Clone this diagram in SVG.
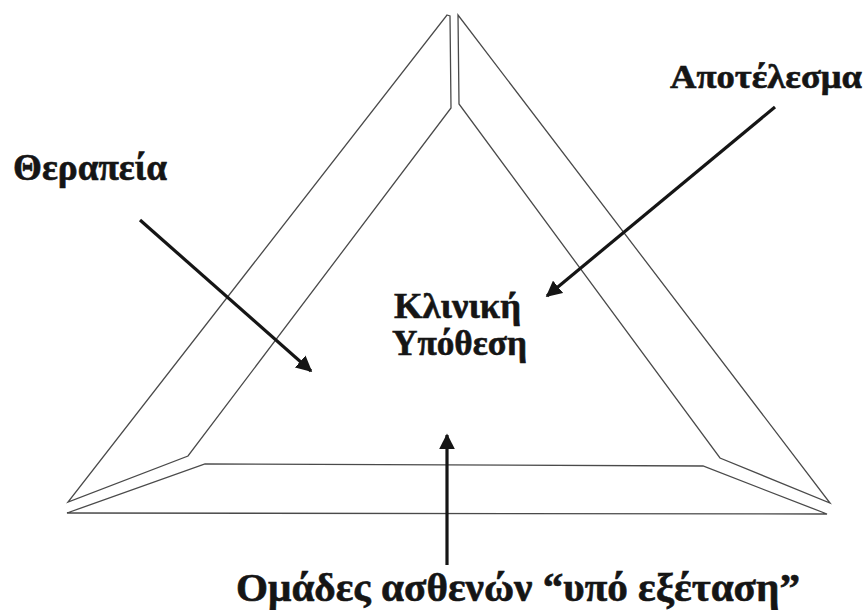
<svg xmlns="http://www.w3.org/2000/svg" width="866" height="610" viewBox="0 0 866 610">
<style>
.frame{fill:none;stroke:#4a4a4a;stroke-width:1.3;stroke-linejoin:miter}
.lbl{font-family:"Liberation Serif","Times New Roman",serif;font-weight:bold;fill:#151515;stroke:#151515;stroke-width:0.6}
.arr{stroke:#151515;stroke-width:3.2;fill:none}
</style>
<defs>
<marker id="ah" viewBox="0 0 10 10" refX="9" refY="5" markerWidth="5" markerHeight="5" markerUnits="strokeWidth" orient="auto">
<path d="M0,0 L10,5 L0,10 z" fill="#151515"/>
</marker>
</defs>
<rect width="866" height="610" fill="#ffffff"/>
<g id="triangle">
<polygon id="left-side" class="frame" points="447,15 450,16 451,108 188,456 68,502"/>
<polygon id="right-side" class="frame" points="458,15 459,104 720,458 830,503"/>
<polygon id="base-side" class="frame" points="67,513 205,464 703,466 827,514"/>
</g>
<g id="node-therapy"><text class="lbl" x="13" y="180" font-size="37" textLength="154" lengthAdjust="spacingAndGlyphs">Θεραπεία</text></g>
<g id="node-outcome"><text class="lbl" x="670" y="88" font-size="34" textLength="192" lengthAdjust="spacingAndGlyphs">Αποτέλεσμα</text></g>
<g id="node-hypothesis">
<text class="lbl" x="394" y="318" font-size="36" textLength="127" lengthAdjust="spacingAndGlyphs">Κλινική</text>
<text class="lbl" x="392" y="355" font-size="36" textLength="135" lengthAdjust="spacingAndGlyphs">Υπόθεση</text>
</g>
<g id="node-groups"><text class="lbl" x="236" y="601" font-size="40" textLength="564" lengthAdjust="spacingAndGlyphs">Ομάδες ασθενών “υπό εξέταση”</text></g>
<g id="connectors">
<line class="arr" x1="140" y1="220" x2="311" y2="371" marker-end="url(#ah)"/>
<line class="arr" x1="775" y1="107" x2="547" y2="296" marker-end="url(#ah)"/>
<line class="arr" x1="447" y1="565" x2="447" y2="435" marker-end="url(#ah)"/>
</g>
</svg>
